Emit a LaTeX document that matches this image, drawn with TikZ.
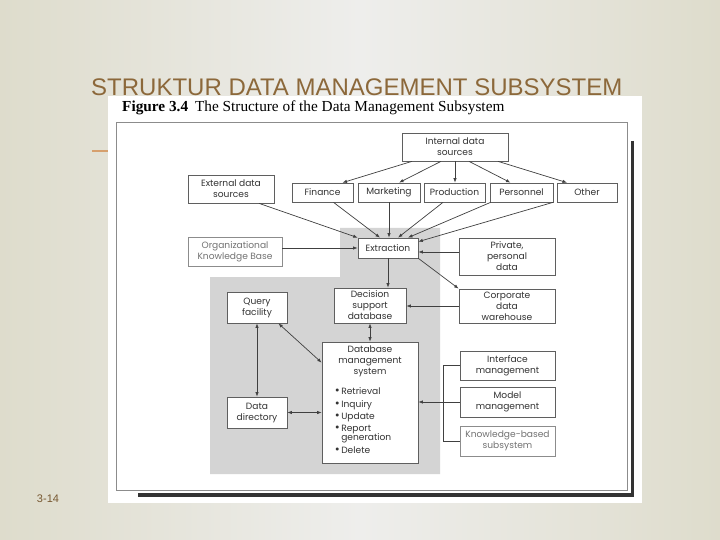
\documentclass[tikz,border=0pt]{standalone}
\usepackage{fontspec}
\setmainfont{Liberation Serif}
\newfontfamily\figfont{Poppins}
\newfontfamily\slidefont{Liberation Sans}
\usetikzlibrary{arrows.meta,positioning,calc}
\definecolor{slidebg}{RGB}{238,238,236}
\definecolor{slideedge}{RGB}{222,220,204}
\definecolor{titlebrown}{RGB}{140,104,58}
\definecolor{dashorange}{RGB}{214,160,110}
\definecolor{areagray}{RGB}{212,212,212}
\definecolor{boxline}{RGB}{95,95,95}
\definecolor{lightline}{RGB}{140,140,140}
\newcommand{\dbul}{{\fontsize{12}{10}\selectfont\textbullet}\,}
\tikzset{
  fbox/.style  ={draw=boxline, fill=white, line width=0.7pt, align=center, inner sep=0pt, font=\figfont\fontsize{9.1}{11}\selectfont, text=black!80},
  fboxl/.style ={fbox, draw=lightline, text=black!55},
  txt/.style   ={inner sep=0pt, font=\figfont\fontsize{9.1}{11}\selectfont, text=black!80},
  arr/.style   ={-{Latex[length=4.5pt,width=3.4pt]}, line width=0.7pt, draw=black!75},
  darr/.style  ={{Latex[length=4.5pt,width=3.4pt]}-{Latex[length=4.5pt,width=3.4pt]}, line width=0.7pt, draw=black!75},
  ln/.style    ={line width=0.7pt, draw=black!75},
}

\begin{document}
\begin{tikzpicture}[x=1pt, y=-1pt]
  % --- slide ---
  \useasboundingbox (0,0) rectangle (720,540);
  \shade[left color=slideedge, right color=slidebg] (0,0) rectangle (360,540);
  \shade[left color=slidebg, right color=slideedge] (360,0) rectangle (720,540);
  \node[anchor=west, inner sep=0pt, font=\slidefont\fontsize{24}{24}\selectfont, text=titlebrown] (title) at (91,87) {STRUKTUR DATA MANAGEMENT SUBSYSTEM};
  \draw[dashorange, line width=1.2pt] (92,151) -- (110,151);
  \node[inner sep=0pt, font=\slidefont\fontsize{11}{11}\selectfont, text=titlebrown!85!black] (pnum) at (48,499) {3-14};
  % --- figure panel ---
  \fill[white] (108,96) rectangle (642,503);
  \node[anchor=base west, inner sep=0pt, font=\fontsize{15.3}{15.3}\selectfont] (cap) at (122,112) {\textbf{Figure 3.4}\hspace{0.45em}The Structure of the Data Management Subsystem};
  \draw[lightline, line width=0.9pt] (116,122) rectangle (627,490);
  \draw[black!80, line width=3.5pt] (632.5,141) -- (632.5,495) -- (138,495);
  \fill[areagray] (340,228) -- (440,228) -- (440,474) -- (210,474) -- (210,277) -- (340,277) -- cycle;
  % --- sources ---
  \node[fbox, minimum width=106, minimum height=28] (int) at (455,147) {Internal data\\sources};
  \node[fbox, minimum width=86, minimum height=28] (ext) at (231,189) {External data\\sources};
  \node[fbox, minimum width=61, minimum height=19] (fin) at (322.5,192.5) {Finance};
  \node[fbox, minimum width=62, minimum height=19] (mkt) at (389,192.5) {Marketing};
  \node[fbox, minimum width=61, minimum height=19] (prod) at (454.5,192.5) {Production};
  \node[fbox, minimum width=63, minimum height=19] (pers) at (521.5,192.5) {Personnel};
  \node[fbox, minimum width=60, minimum height=19] (oth) at (587,192.5) {Other};
  \node[fboxl, minimum width=94, minimum height=29] (okb) at (235,251.5) {Organizational\\Knowledge Base};
  \node[fbox, minimum width=60, minimum height=20] (extr) at (388,248) {Extraction};
  \node[fbox, minimum width=96, minimum height=37] (priv) at (507,256.5) {Private,\\personal\\data};
  % --- databases ---
  \node[fbox, minimum width=72, minimum height=35] (dss) at (370,305.5) {Decision\\support\\database};
  \node[fbox, minimum width=96, minimum height=34] (corp) at (507,306) {Corporate\\data\\warehouse};
  \node[fbox, minimum width=60, minimum height=31] (qry) at (257,307.5) {Query\\facility};
  \node[fbox, minimum width=96, minimum height=121] (dbms) at (370,402.5) {};
  \node[txt, anchor=north, align=center] (dbmsT) at ([yshift=-4pt]dbms.north) {Database\\management\\system};
  \node[txt, anchor=north west, align=left, font=\figfont\fontsize{9.1}{12.4}\selectfont] (dbmsL) at ([xshift=13pt, yshift=-46pt]dbms.north west)
    {\dbul Retrieval\\ \dbul Inquiry\\ \dbul Update\\ \dbul Report\\[-3.4pt] \phantom{\dbul}generation\\ \dbul Delete};
  \node[fbox, minimum width=60, minimum height=31] (dd) at (257,412.5) {Data\\directory};
  % --- subsystems ---
  \node[fbox, minimum width=95, minimum height=29] (ifm) at (507.5,365.5) {Interface\\management};
  \node[fbox, minimum width=95, minimum height=30] (mdl) at (507.5,402) {Model\\management};
  \node[fboxl, minimum width=95, minimum height=30] (kbs) at (507.5,441) {Knowledge-based\\subsystem};
  % --- connectors ---
  \draw[arr] ([xshift=-43pt]int.south) -- ([xshift=20pt]fin.north);
  \draw[arr] ([xshift=-14pt]int.south) -- ([xshift=10pt]mkt.north);
  \draw[arr] (int.south) -- (int.south |- prod.north);
  \draw[arr] ([xshift=14pt]int.south) -- ([xshift=-11pt]pers.north);
  \draw[arr] ([xshift=43pt]int.south) -- ([xshift=-20pt]oth.north);
  \draw[arr] ([xshift=28pt]ext.south) -- (extr.north west);
  \draw[arr] ([xshift=11pt]fin.south) -- ([xshift=-8pt]extr.north);
  \draw[arr] (mkt.south) -- (mkt.south |- extr.north);
  \draw[arr] ([xshift=-11.5pt]prod.south) -- ([xshift=10pt]extr.north);
  \draw[arr] ([xshift=1pt]pers.south west) -- ([xshift=20pt]extr.north);
  \draw[arr] ([xshift=-34pt]oth.south) -- ([yshift=-4pt]extr.north east);
  \draw[arr] (okb.east |- extr.west) -- (extr.west);
  \draw[arr] ([yshift=-4pt]extr.east -| priv.west) -- ([yshift=-4pt]extr.east);
  \draw[arr] (extr.south) -- (extr.south |- dss.north);
  \draw[arr] (extr.south east) -- (corp.north west);
  \draw[arr] (corp.west) -- (corp.west -| dss.east);
  \draw[darr] (dss.south) -- (dss.south |- dbms.north);
  \draw[darr] (qry.south) -- (dd.north);
  \draw[darr] ([xshift=-9pt]qry.south east) -- ([yshift=-21pt]dbms.north west);
  \draw[darr] (dd.east) -- (dd.east -| dbms.west);
  \draw[ln] (ifm.west) -- ++(-16,0) |- (kbs.west);
  \draw[ln] (mdl.west) -- ++(-16,0);
  \draw[arr] ([xshift=-16pt]mdl.west) -- (mdl.west -| dbms.east);
\end{tikzpicture}
\end{document}
